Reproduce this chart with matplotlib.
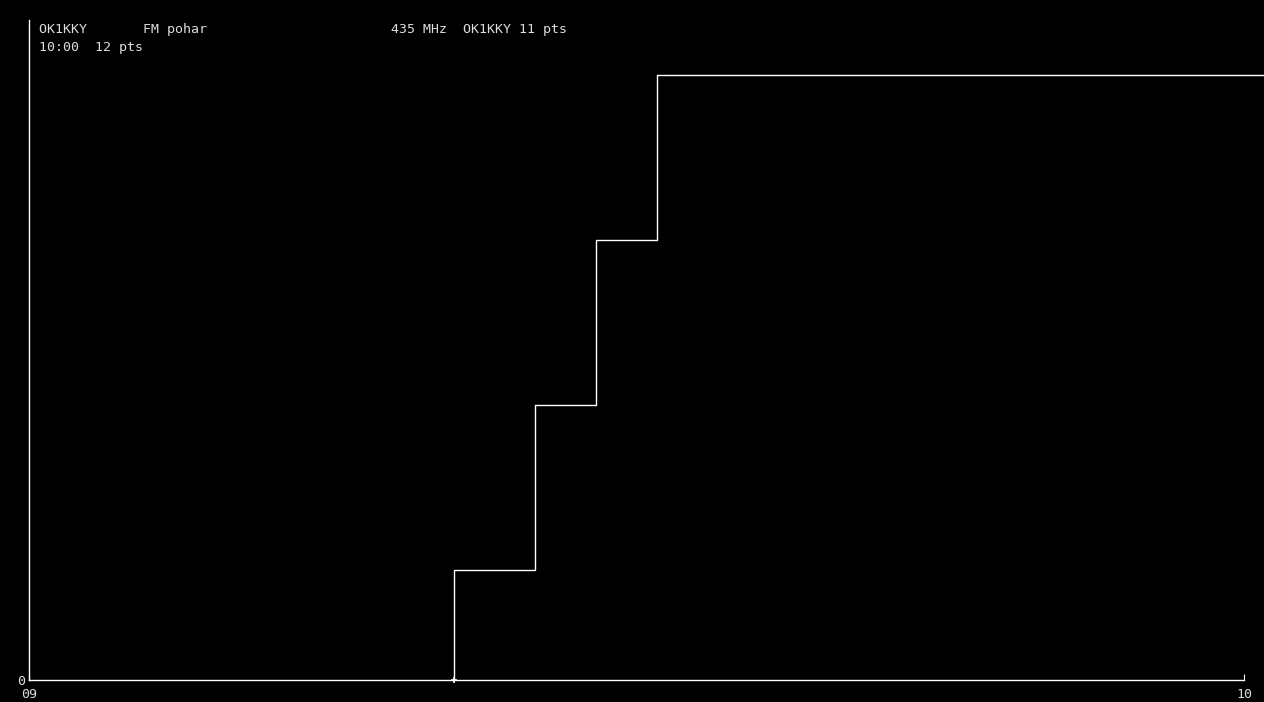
import numpy as np
import matplotlib.pyplot as plt

# minuty od 09:00 a body v tu chvili
cas = [21, 25, 28, 31, 61]
body = [2, 5, 8, 11, 11]
y_max = 12

hlavicka1 = "OK1KKY       FM pohar" + " " * 23 + "435 MHz  OK1KKY 11 pts"
hlavicka2 = "10:00  12 pts"

W, H = 1264, 702
fig = plt.figure(figsize=(W / 100, H / 100), dpi=100, facecolor='black')
ax = fig.add_axes([29 / W, (H - 680) / H, 1215 / W, 660 / H])
ax.set_facecolor('black')

ax.step([cas[0]] + cas, [0] + body, where='post', color='white', lw=1.0, clip_on=False)
ax.plot([cas[0]], [0], marker='+', ms=5, mew=1.2, color='white', clip_on=False)

ax.set_xlim(0, 60)
ax.set_ylim(0, y_max)
for s in ['top', 'right']:
    ax.spines[s].set_visible(False)
for s in ['left', 'bottom']:
    ax.spines[s].set_color('white')
    ax.spines[s].set_linewidth(1.0)

ax.set_xticks([0, 60])
ax.set_xticklabels(['09', '10'])
ax.set_yticks([0])
ax.set_yticklabels(['0'])
ax.tick_params(axis='x', direction='in', length=4, color='white', pad=6,
               labelcolor='#dddddd', labelsize=9.5)
ax.tick_params(axis='y', length=0, pad=3, labelcolor='#dddddd', labelsize=9.5)
for t in ax.get_xticklabels() + ax.get_yticklabels():
    t.set_family('DejaVu Sans Mono')

fig.text(39 / W, 1 - 29 / H, hlavicka1, color='#dddddd', fontsize=9.5,
         family='DejaVu Sans Mono', va='center', ha='left')
fig.text(39 / W, 1 - 47 / H, hlavicka2, color='#dddddd', fontsize=9.5,
         family='DejaVu Sans Mono', va='center', ha='left')

fig.savefig('out.png', dpi=100, facecolor='black')
